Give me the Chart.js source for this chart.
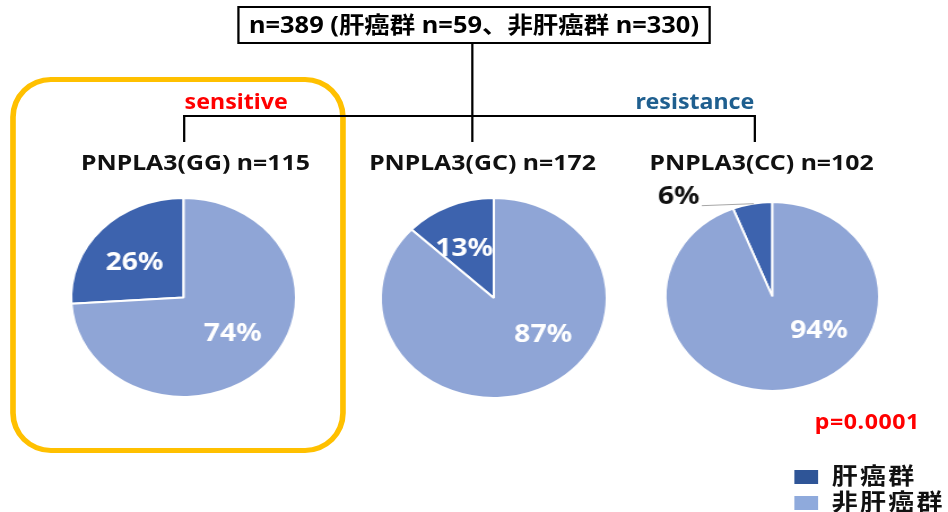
<!DOCTYPE html>
<html lang="ja">
<head>
<meta charset="utf-8">
<script src="https://cdn.jsdelivr.net/npm/chart.js@4.4.0/dist/chart.umd.min.js"></script>
<style>
  body { margin: 0; background: #fff; }
  /* the whole slide was stretched ~1.13x wide, so we build it narrow and scale it */
  #wrap {
    position: relative; width: 839px; height: 512px;
    transform: scaleX(1.13); transform-origin: 0 0;
    font-family: "Noto Sans", "Noto Sans CJK JP", sans-serif; font-weight: bold;
  }
  .abs { position: absolute; }
  .line { position: absolute; background: #000; }
  #topBox {
    left: 210px; top: 6px; width: 419px; height: 38px; box-sizing: border-box;
    border: 2px solid #000; font-size: 22.5px; line-height: 33px; text-align: center; white-space: nowrap;
  }
  #highlight {
    left: 9px; top: 77px; width: 297px; height: 376px; box-sizing: border-box;
    border: 5px solid #FFC000; border-radius: 36px / 40px;
  }
  .tag { font-size: 20.5px; line-height: 22px; text-align: center; width: 160px; }
  .title { font-size: 22px; line-height: 24px; text-align: center; width: 260px; white-space: nowrap; color: #111; }
  .pie { position: absolute; }
  #pval { left: 721px; top: 407px; font-size: 20.5px; color: #FF0000; letter-spacing: 0.5px; }
  .legItem { position: absolute; left: 703px; height: 26px; }
  .legItem span.sw { position: absolute; left: 0; top: 6px; width: 21px; height: 14px; }
  .legItem span.tx { position: absolute; left: 33px; top: -6px; font-size: 23px; line-height: 34px; white-space: nowrap; letter-spacing: 2px; color: #111; }
</style>
</head>
<body>
<div id="wrap"></div>
<script>
// ---- data ----
const groupLabels = ['肝癌群', '非肝癌群'];
const genotypes = ['PNPLA3(GG)', 'PNPLA3(GC)', 'PNPLA3(CC)'];
const genotypeN = [115, 172, 102];
const liverPct = [26, 13, 6];
const nonLiverPct = [74, 87, 94];
const totalN = 389;
const liverN = 59;
const nonLiverN = 330;
const pValue = 'p=0.0001';

// ---- style / layout ----
const colors = ['#3D63AE', '#8FA5D6'];
const legendColors = ['#2F5597', '#8FAADC'];
const pieLayout = [
  { cx: 162, cy: 297, r: 99.5 },
  { cx: 437, cy: 298, r: 100 },
  { cx: 683, cy: 296, r: 94.5 }
];
const titleX = [173, 427, 674];
const pad = 30;

const wrap = document.getElementById('wrap');

function addDiv(cls, style, text) {
  const d = document.createElement('div');
  d.className = cls;
  Object.assign(d.style, style);
  if (text !== undefined) d.textContent = text;
  wrap.appendChild(d);
  return d;
}

// highlight frame around the sensitive group
addDiv('abs', {}, '').id = 'highlight';

// top box + tree lines
addDiv('abs', {}, 'n=' + totalN + ' (' + groupLabels[0] + ' n=' + liverN + '、' + groupLabels[1] + ' n=' + nonLiverN + ')').id = 'topBox';
addDiv('line', { left: '417px', top: '44px', width: '1.5px', height: '98px' });
addDiv('line', { left: '162px', top: '115px', width: '506px', height: '1.5px' });
addDiv('line', { left: '162px', top: '115px', width: '1.5px', height: '27px' });
addDiv('line', { left: '667px', top: '115px', width: '1.5px', height: '27px' });

addDiv('abs tag', { left: (209 - 80) + 'px', top: '90px', color: '#FF0000' }, 'sensitive');
addDiv('abs tag', { left: (615 - 80) + 'px', top: '90px', color: '#1F5F8F' }, 'resistance');

genotypes.forEach((g, i) => {
  addDiv('abs title', { left: (titleX[i] - 130) + 'px', top: '149px' }, g + ' n=' + genotypeN[i]);
});

addDiv('abs', {}, pValue).id = 'pval';

groupLabels.forEach((lab, i) => {
  const item = addDiv('legItem', { top: (464 + i * 26) + 'px' });
  const sw = document.createElement('span');
  sw.className = 'sw';
  sw.style.background = legendColors[i];
  const tx = document.createElement('span');
  tx.className = 'tx';
  tx.textContent = lab;
  item.appendChild(sw);
  item.appendChild(tx);
});

// percentage labels drawn on each pie
const pctLabels = {
  id: 'pctLabels',
  afterDatasetsDraw(chart) {
    const ctx = chart.ctx;
    const vals = chart.data.datasets[0].data;
    const meta = chart.getDatasetMeta(0);
    ctx.save();
    ctx.font = 'bold 25px "Noto Sans", sans-serif';
    meta.data.forEach((arc, i) => {
      const p = arc.getProps(['x', 'y', 'startAngle', 'endAngle', 'outerRadius']);
      const r = p.outerRadius;
      const mid = (p.startAngle + p.endAngle) / 2;
      const txt = vals[i] + '%';
      if (vals[i] < 10) {
        // small slice: label outside with a leader line
        const ex = p.x + Math.cos(mid) * r * 0.93;
        const ey = p.y + Math.sin(mid) * r * 1.0;
        const lx = ex - 46, ly = ey + 2;
        ctx.strokeStyle = '#A6A6A6';
        ctx.lineWidth = 1;
        ctx.beginPath();
        ctx.moveTo(ex, ey);
        ctx.lineTo(lx, ly);
        ctx.stroke();
        ctx.fillStyle = '#111';
        ctx.textAlign = 'right';
        ctx.textBaseline = 'middle';
        ctx.fillText(txt, lx - 2, ly - 9);
      } else {
        // big slices sit at ~130deg from the top, small ones near their middle
        const a = vals[i] > 50 ? (130 - 90) * Math.PI / 180 : mid - 0.08;
        const f = vals[i] > 50 ? 0.57 : 0.56;
        ctx.fillStyle = '#fff';
        ctx.textAlign = 'center';
        ctx.textBaseline = 'middle';
        ctx.fillText(txt, p.x + Math.cos(a) * r * f, p.y + Math.sin(a) * r * f);
      }
    });
    ctx.restore();
  }
};

pieLayout.forEach((pl, i) => {
  const size = 2 * pl.r + 2 + 2 * pad;
  const box = addDiv('pie', {
    left: (pl.cx - size / 2) + 'px', top: (pl.cy - size / 2) + 'px',
    width: size + 'px', height: size + 'px'
  });
  const canvas = document.createElement('canvas');
  box.appendChild(canvas);
  new Chart(canvas, {
    type: 'pie',
    data: {
      labels: groupLabels,
      datasets: [{
        data: [liverPct[i], nonLiverPct[i]],
        backgroundColor: colors,
        borderColor: '#fff',
        borderWidth: 2
      }]
    },
    options: {
      responsive: true,
      maintainAspectRatio: false,
      animation: false,
      rotation: -liverPct[i] / 100 * 360,
      layout: { padding: pad },
      plugins: {
        legend: { display: false },
        tooltip: { enabled: false }
      }
    },
    plugins: [pctLabels]
  });
});
</script>
</body>
</html>
